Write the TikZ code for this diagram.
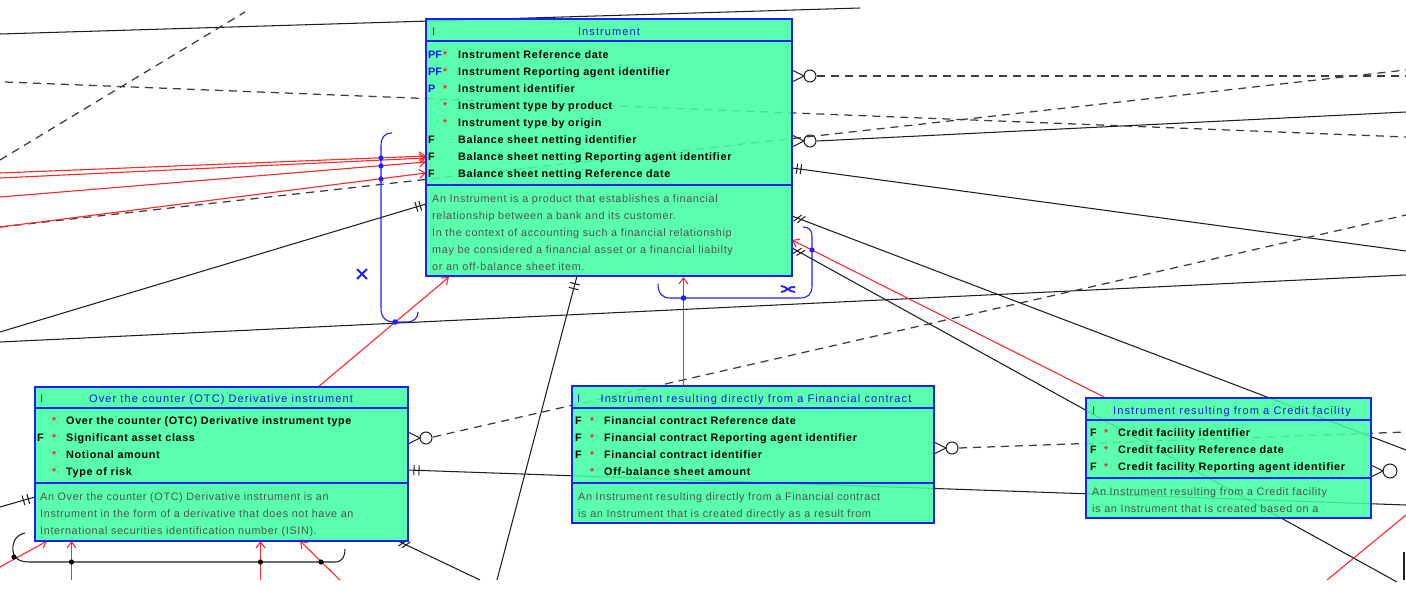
\documentclass[tikz,border=0pt]{standalone}
\usepackage{fontspec}
\setmainfont{Liberation Sans}
\usetikzlibrary{arrows.meta,calc}
\definecolor{boxfill}{RGB}{64,255,160}
\definecolor{boxline}{RGB}{30,30,255}
\definecolor{relred}{RGB}{255,40,40}
\definecolor{lnkc}{RGB}{30,30,30}
\definecolor{dashc}{RGB}{60,60,60}
\definecolor{descc}{RGB}{80,80,80}
\definecolor{ttl}{RGB}{20,20,235}
\definecolor{brk}{RGB}{30,30,255}
\tikzset{
  entbox/.style={draw=boxline, line width=1.2pt, fill=boxfill, fill opacity=0.86, draw opacity=1, anchor=north west, inner sep=0pt, outer sep=0pt},
  sepline/.style={draw=boxline, line width=1.2pt},
  lnk/.style={draw=lnkc, line width=1.05pt},
  dsh/.style={draw=dashc, line width=1.25pt, dash pattern=on 8pt off 6pt},
  redarr/.style={draw=relred, line width=1.1pt, -{Straight Barb[length=6pt,width=9pt]}},
  redln/.style={draw=relred, line width=1.1pt},
  bracket/.style={draw=brk, line width=1.1pt},
  bdot/.style={fill=brk},
  kdot/.style={fill=black},
  attr/.style={anchor=base west, inner sep=0pt, font=\fontsize{10.8}{12}\selectfont\bfseries\addfontfeature{LetterSpace=6}, text=black},
  keyt/.style={anchor=base west, inner sep=0pt, font=\fontsize{10.8}{12}\selectfont\bfseries},
  star/.style={anchor=base west, inner sep=0pt, font=\fontsize{10.5}{12}\selectfont\bfseries, text=relred},
  desct/.style={anchor=base west, inner sep=0pt, font=\fontsize{10.8}{12}\selectfont\addfontfeature{LetterSpace=6}, text=descc},
  titlet/.style={anchor=base, inner sep=0pt, font=\fontsize{11}{12}\selectfont\addfontfeature{LetterSpace=10}, text=ttl},
  hdrI/.style={anchor=base west, inner sep=0pt, font=\fontsize{11}{12}\selectfont, text=ttl},
}
\newcommand\relticks[5]{%
  \path ($(#1)!#3!(#2)$) coordinate (tkp) ($(#1)!#4!(#2)$) coordinate (tkq);
  \draw[lnk] ($(tkp)!5pt!#5:(#2)$) -- ($(tkp)!-5pt!#5:(#2)$);
  \draw[lnk] ($(tkq)!5pt!#5:(#2)$) -- ($(tkq)!-5pt!#5:(#2)$);
}
\newcommand\crowo[3]{% x, y, radius
  \draw[lnk] (#1,#2-6) -- (#1+12,#2) -- (#1,#2+6);
  \draw[lnk] (#1+12+#3,#2) circle (#3);
}
\begin{document}
\begin{tikzpicture}[x=1pt,y=-1pt]
\useasboundingbox (0,0) rectangle (1406,589);
\fill[white] (0,0) rectangle (1406,589);

% ---- connector end points
\coordinate (c1a) at (0,34);     \coordinate (c1b) at (860,8);
\coordinate (c2a) at (0,332);    \coordinate (c2b) at (426,204);
\coordinate (c3a) at (0,342);    \coordinate (c3b) at (1406,275);
\coordinate (c4a) at (577,276);  \coordinate (c4b) at (497,580);
\coordinate (c5a) at (792,168);  \coordinate (c5b) at (1406,251);
\coordinate (c6a) at (792,216);  \coordinate (c6b) at (1406,450);
\coordinate (c7a) at (792,248);  \coordinate (c7b) at (1397,582);
\coordinate (c8a) at (817,141);  \coordinate (c8b) at (1406,112);
\coordinate (c9a) at (408,470);  \coordinate (c9b) at (1406,505);
\coordinate (c10a) at (398,541); \coordinate (c10b) at (480,580);
\coordinate (c11a) at (35,497);  \coordinate (c11b) at (0,507);
\coordinate (c12a) at (1404,552); \coordinate (c12b) at (1404,580);
\coordinate (d1a) at (0,160);    \coordinate (d1b) at (245,12);
\coordinate (d2a) at (5,82);     \coordinate (d2b) at (1406,137);
\coordinate (d3a) at (0,227);    \coordinate (d3b) at (1406,70);
\coordinate (d4a) at (817,76);   \coordinate (d4b) at (1406,76);
\coordinate (d5a) at (433,437);  \coordinate (d5b) at (1406,215);
\coordinate (d6a) at (959,448);  \coordinate (d6b) at (1406,432);
\coordinate (r1a) at (0,173);    \coordinate (r1b) at (426,156);
\coordinate (r2a) at (0,178);    \coordinate (r2b) at (426,158);
\coordinate (r3a) at (0,197);    \coordinate (r3b) at (426,162);
\coordinate (r4a) at (0,227);    \coordinate (r4b) at (426,173);
\coordinate (r5a) at (318,387);  \coordinate (r5b) at (449,277);
\coordinate (r6a) at (683.5,386); \coordinate (r6b) at (683.5,277);
\coordinate (r7a) at (1106,398); \coordinate (r7b) at (792,240);
\coordinate (r8a) at (0,567);    \coordinate (r8b) at (47,541);
\coordinate (r9a) at (71.5,580); \coordinate (r9b) at (71.5,541);
\coordinate (r10a) at (260.5,580); \coordinate (r10b) at (260.5,541);
\coordinate (r11a) at (340,580); \coordinate (r11b) at (300,541);
\coordinate (r12a) at (1327,580); \coordinate (r12b) at (1406,515);

% ---- black relations
\foreach \n in {1,...,12} { \draw[lnk] (c\n a) -- (c\n b); }
\relticks{c2b}{c2a}{6pt}{10pt}{90}
\relticks{c4a}{c4b}{8pt}{13pt}{90}
\relticks{c5a}{c5b}{5pt}{9pt}{90}
\relticks{c6a}{c6b}{6pt}{10pt}{60}
\relticks{c7a}{c7b}{6pt}{10pt}{60}
\relticks{c9a}{c9b}{6pt}{11pt}{90}
\relticks{c10a}{c10b}{5pt}{9pt}{60}
\relticks{c11a}{c11b}{7pt}{12pt}{90}
\crowo{792}{141}{6}

% ---- dashed relations
\foreach \n in {1,...,6} { \draw[dsh] (d\n a) -- (d\n b); }
\crowo{792}{76}{6}
\crowo{408}{438}{6}
\crowo{934}{448}{6}
\crowo{1371}{471}{7}

% ---- red arrows
\foreach \n in {1,...,11} { \draw[redarr] (r\n a) -- (r\n b); }
\draw[redln] (r12a) -- (r12b);

% ---- boxes
\node[entbox, minimum width=366pt, minimum height=257pt] (inst) at (426,19) {};
\node[entbox, minimum width=373pt, minimum height=154pt] (otc) at (35,387) {};
\node[entbox, minimum width=362pt, minimum height=137pt] (fc) at (572,386) {};
\node[entbox, minimum width=285pt, minimum height=120pt] (cf) at (1086,398) {};
\draw[sepline] (426,41) -- (792,41);
\draw[sepline] (426,185) -- (792,185);
\draw[sepline] (35,408) -- (408,408);
\draw[sepline] (35,483) -- (408,483);
\draw[sepline] (572,408) -- (934,408);
\draw[sepline] (572,483) -- (934,483);
\draw[sepline] (1086,420) -- (1371,420);
\draw[sepline] (1086,478) -- (1371,478);

% ---- Instrument
\node[hdrI] (iI) at (432,35) {I};
\node[titlet] (iT) at (609,35) {Instrument};
\foreach \k/\kc/\st/\t [count=\n] in {
  PF/ttl/*/Instrument Reference date,
  PF/ttl/*/Instrument Reporting agent identifier,
  P/ttl/*/Instrument identifier,
  {}/ttl/*/Instrument type by product,
  {}/ttl/*/Instrument type by origin,
  F/black/{}/Balance sheet netting identifier,
  F/black/{}/Balance sheet netting Reporting agent identifier,
  F/black/{}/Balance sheet netting Reference date}
{
  \pgfmathsetmacro\yb{58+17*(\n-1)}
  \node[keyt, text=\kc] (ik\n) at (428,\yb) {\k};
  \node[star] (is\n) at (443,\yb) {\st};
  \node[attr] (it\n) at (458,\yb) {\t};
}
\foreach \t [count=\n] in {
  An Instrument is a product that establishes a financial,
  relationship between a bank and its customer.,
  In the context of accounting such a financial relationship,
  may be considered a financial asset or a financial liabilty,
  or an off-balance sheet item.}
{
  \pgfmathsetmacro\yb{202+17*(\n-1)}
  \node[desct] (id\n) at (432,\yb) {\t};
}

% ---- OTC
\node[hdrI] (oI) at (40,402) {I};
\node[titlet] (oT) at (221,402) {Over the counter (OTC) Derivative instrument};
\foreach \k/\t [count=\n] in {
  {}/Over the counter (OTC) Derivative instrument type,
  F/Significant asset class,
  {}/Notional amount,
  {}/Type of risk}
{
  \pgfmathsetmacro\yb{424+17*(\n-1)}
  \node[keyt] (ok\n) at (37,\yb) {\k};
  \node[star] (os\n) at (52,\yb) {*};
  \node[attr] (ot\n) at (66,\yb) {\t};
}
\foreach \t [count=\n] in {
  An Over the counter (OTC) Derivative instrument is an,
  Instrument in the form of a derivative that does not have an,
  International securities identification number (ISIN).}
{
  \pgfmathsetmacro\yb{500+17*(\n-1)}
  \node[desct] (od\n) at (40,\yb) {\t};
}

% ---- Financial contract
\node[hdrI] (fI) at (577,402) {I};
\node[titlet] (fT) at (756,402) {Instrument resulting directly from a Financial contract};
\foreach \k/\t [count=\n] in {
  F/Financial contract Reference date,
  F/Financial contract Reporting agent identifier,
  F/Financial contract identifier,
  {}/Off-balance sheet amount}
{
  \pgfmathsetmacro\yb{424+17*(\n-1)}
  \node[keyt] (fk\n) at (575,\yb) {\k};
  \node[star] (fs\n) at (590,\yb) {*};
  \node[attr] (ft\n) at (604,\yb) {\t};
}
\foreach \t [count=\n] in {
  An Instrument resulting directly from a Financial contract,
  is an Instrument that is created directly as a result from}
{
  \pgfmathsetmacro\yb{500+17*(\n-1)}
  \node[desct] (fd\n) at (578,\yb) {\t};
}

% ---- Credit facility
\node[hdrI] (cI) at (1092,414) {I};
\node[titlet] (cT) at (1232,414) {Instrument resulting from a Credit facility};
\foreach \t [count=\n] in {
  Credit facility identifier,
  Credit facility Reference date,
  Credit facility Reporting agent identifier}
{
  \pgfmathsetmacro\yb{436+17*(\n-1)}
  \node[keyt] (ck\n) at (1090,\yb) {F};
  \node[star] (cs\n) at (1104,\yb) {*};
  \node[attr] (ct\n) at (1118,\yb) {\t};
}
\foreach \t [count=\n] in {
  An Instrument resulting from a Credit facility,
  is an Instrument that is created based on a}
{
  \pgfmathsetmacro\yb{495+17*(\n-1)}
  \node[desct] (cd\n) at (1092,\yb) {\t};
}

% ---- blue arcs (left)
\draw[bracket] (392,133) .. controls (384,133) and (381,138) .. (381,146) -- (381,308)
  .. controls (381,318) and (386,322) .. (395,322) -- (406,322)
  .. controls (414,322) and (418,318) .. (418,312);
\foreach \yy in {158,166,179} { \fill[bdot] (381,\yy) circle (2.6); }
\fill[bdot] (395,322) circle (2.8);
\draw[bracket, line width=1.8pt] (357,269) -- (367,279) (357,279) -- (367,269);

% ---- blue arc (bottom right)
\draw[bracket] (658,284) .. controls (658,293) and (662,298) .. (670,298) -- (800,298)
  .. controls (808,298) and (812,294) .. (812,286) -- (812,236)
  .. controls (812,230) and (809,227) .. (803,227);
\fill[bdot] (683.5,298) circle (2.8);
\fill[bdot] (812,250) circle (2.6);
\draw[bracket, line width=1.8pt] (781,286) .. controls (786,286) and (789,292) .. (795,292)
  (781,292) .. controls (786,292) and (789,286) .. (795,287);

% ---- black arc (bottom left)
\draw[lnk] (25,533) .. controls (16,535) and (12,542) .. (13,551)
  .. controls (14,559) and (20,562) .. (30,562) -- (335,562)
  .. controls (342,562) and (345,557) .. (345,549);
\foreach \xx/\yy in {14/557,71.5/562,260.5/562,321/562} { \fill[kdot] (\xx,\yy) circle (2.6); }
\end{tikzpicture}
\end{document}
